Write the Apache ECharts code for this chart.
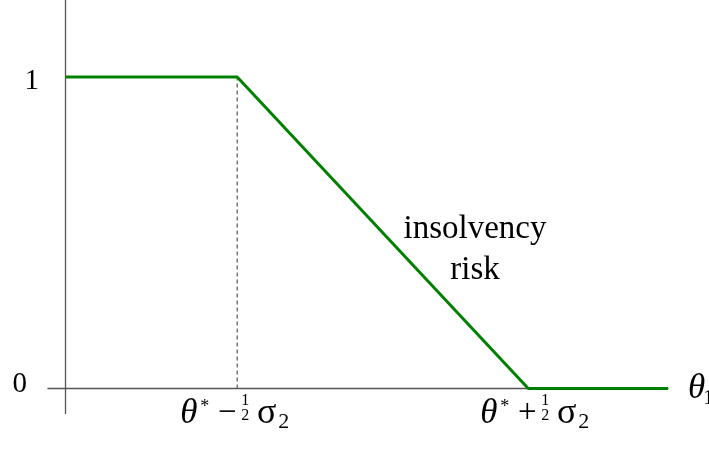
<!DOCTYPE html>
<html>
<head>
<meta charset="utf-8">
<script src="https://cdn.jsdelivr.net/npm/echarts@6/dist/echarts.min.js"></script>
<style>
  html, body { margin: 0; padding: 0; background: #fff; }
  #chart { width: 709px; height: 449px; }
</style>
</head>
<body>
<div id="chart"></div>
<script>
// Insolvency risk as a function of the fundamental θ1 (σ2 = 1, origin at the vertical axis)
const riskX = [0, 0.59, 1.59, 2.07];
const riskY = [1, 1, 0, 0];
// the two kinks, θ* − ½σ2 and θ* + ½σ2
const kinkX = [0.59, 1.59];
const kinkSigns = ['−', '+'];
const yTicks = [0, 1];
const noteLines = ['insolvency', 'risk'];

const SERIF = '"Liberation Serif", "DejaVu Serif", serif';
const GREEN = '#008000';
const AXIS = '#555';

const chart = echarts.init(document.getElementById('chart'), null, { renderer: 'canvas' });

chart.setOption({
  animation: false,
  backgroundColor: '#fff',
  grid: { left: 48, right: 41, top: 0, bottom: 35.5, containLabel: false, outerBoundsMode: 'none' },
  xAxis: {
    type: 'value', min: -0.06, max: 2.07,
    axisLine: { show: true, onZero: true, lineStyle: { color: AXIS, width: 1.3 } },
    axisTick: { show: false }, axisLabel: { show: false }, splitLine: { show: false }
  },
  yAxis: {
    type: 'value', min: -0.08, max: 1.247,
    axisLine: { show: true, onZero: true, lineStyle: { color: AXIS, width: 1.3 } },
    axisTick: { show: false },
    splitLine: { show: false },
    axisLabel: {
      show: true,
      customValues: yTicks,
      margin: 0,
      hideOverlap: false,
      formatter: v => (v === 1 ? '{one|1}' : '{zero|0}'),
      rich: {
        one: { fontFamily: SERIF, fontSize: 29, color: '#000', padding: [9, 9, 0, 0] },
        zero: { fontFamily: SERIF, fontSize: 29, color: '#000', padding: [0, 21, 8, 0] }
      }
    }
  },
  series: [
    {
      type: 'line', silent: true, symbol: 'none', z: 1,
      data: [[kinkX[0], 0], [kinkX[0], riskY[1]]],
      lineStyle: { color: '#555', width: 1.2, type: [4, 3] }
    },
    {
      type: 'line', silent: true, symbol: 'none', z: 3,
      data: riskX.map((x, i) => [x, riskY[i]]),
      lineStyle: { color: GREEN, width: 3 }
    }
  ]
});

// Math-style tick labels: θ* ∓ ½σ2, built from small text pieces
function piece(text, x, y, size, opts) {
  return {
    type: 'text', x: x, y: y, silent: true,
    style: Object.assign({
      text: text, fill: '#000', font: size + 'px ' + SERIF,
      align: 'center', verticalAlign: 'middle'
    }, opts || {})
  };
}

function kinkLabel(x0, sign, dx) {
  const p = chart.convertToPixel({ gridIndex: 0 }, [x0, 0]);
  return {
    type: 'group', x: p[0] + dx, y: p[1],
    children: [
      piece('θ', -1, 25.5, 35, { align: 'left', font: 'italic 35px ' + SERIF }),
      piece('*', 19, 19, 18, { align: 'left' }),
      piece(sign, 46, 25, 33),
      piece('1', 64, 12.5, 16),
      piece('2', 64, 27.5, 16),
      piece('σ', 85.5, 25, 36),
      piece('2', 102.5, 33.5, 22)
    ]
  };
}

const axisEnd = chart.convertToPixel({ gridIndex: 0 }, [2.07, 0]);
const notePos = chart.convertToPixel({ gridIndex: 0 }, [1.407, 0.445]);

chart.setOption({
  graphic: [
    kinkLabel(kinkX[0], kinkSigns[0], -56),
    kinkLabel(kinkX[1], kinkSigns[1], -47),
    {
      type: 'group', x: axisEnd[0] + 20, y: axisEnd[1],
      children: [
        piece('θ', 0, 0, 35, { align: 'left', font: 'italic 35px ' + SERIF }),
        piece('1', 15, 10, 22, { align: 'left' })
      ]
    },
    {
      type: 'text', x: notePos[0], y: notePos[1], silent: true,
      style: {
        text: noteLines.join('\n'), fill: '#000', font: '33px ' + SERIF,
        align: 'center', verticalAlign: 'middle', lineHeight: 41
      }
    }
  ]
});
</script>
</body>
</html>
